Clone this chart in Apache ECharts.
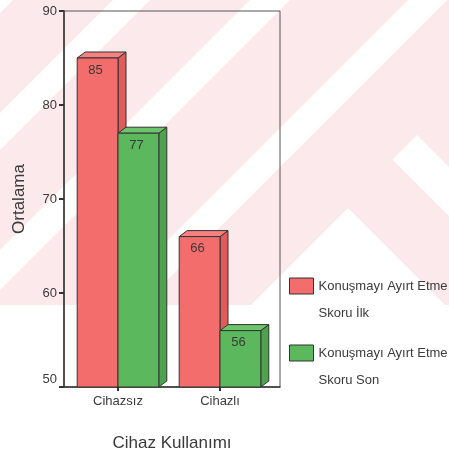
<!DOCTYPE html>
<html>
<head>
<meta charset="utf-8">
<title>Cihaz Kullanımı</title>
<script src="https://cdn.jsdelivr.net/npm/echarts@6/dist/echarts.min.js"></script>
<style>
  html, body { margin: 0; padding: 0; background: #ffffff; }
  #chart { width: 449px; height: 454px; }
</style>
</head>
<body>
<div id="chart"></div>
<script>
// Group labels along the horizontal axis
const categories = ['Cihazsız', 'Cihazlı'];

// Mean scores per group
const seriesNames = ['Konuşmayı Ayırt Etme Skoru İlk', 'Konuşmayı Ayırt Etme Skoru Son'];
const firstScores = [85, 66];
const lastScores = [77, 56];

// Value axis ticks
const yTicks = [50, 60, 70, 80, 90];

const FONT = '"Liberation Sans", Arial, sans-serif';
const TEXT = '#3a3a3a';
const colors = {
  red:   { front: '#f46d6d', top: '#f78080', side: '#e25a5a' },
  green: { front: '#5cb85c', top: '#6cc46c', side: '#4ea24e' }
};
const DEPTH_X = 8, DEPTH_Y = 6;
const BAR_FRAC = 0.4;
const Y_MIN = yTicks[0];

function toData(values) {
  return values.map((v, i) => [i, v]);
}

// Pseudo-3D bar: front face, top face, side face and value label
function renderBar(params, api) {
  const s = params.seriesIndex;
  const pal = s === 0 ? colors.red : colors.green;
  const x = api.value(0), v = api.value(1);
  const w = api.size([1, 0])[0] * BAR_FRAC;
  const base = api.coord([x, Y_MIN]);
  const top = api.coord([x, v]);
  const x0 = base[0] + (s === 0 ? -w : 0);
  const x1 = x0 + w;
  const yT = top[1], yB = base[1];
  const line = { stroke: '#333333', lineWidth: 1 };
  return {
    type: 'group',
    children: [
      {
        type: 'polygon',
        shape: { points: [[x1, yT], [x1 + DEPTH_X, yT - DEPTH_Y], [x1 + DEPTH_X, yB - DEPTH_Y], [x1, yB]] },
        style: Object.assign({ fill: pal.side }, line)
      },
      {
        type: 'polygon',
        shape: { points: [[x0, yT], [x0 + DEPTH_X, yT - DEPTH_Y], [x1 + DEPTH_X, yT - DEPTH_Y], [x1, yT]] },
        style: Object.assign({ fill: pal.top }, line)
      },
      {
        type: 'rect',
        shape: { x: x0, y: yT, width: w, height: yB - yT },
        style: Object.assign({ fill: pal.front }, line)
      },
      {
        type: 'text',
        style: {
          text: String(v),
          x: (x0 + x1) / 2 - 2,
          y: yT + 12,
          align: 'center',
          verticalAlign: 'middle',
          fill: TEXT,
          font: '13px ' + FONT
        }
      }
    ]
  };
}

// Faint diagonal pattern behind the chart
const PINK = '#fce9ec';
const bgStripes = [
  [[0, 0], [13, 0], [0, 13]],
  [[113, 0], [150, 0], [150 - 320, 320], [113 - 320, 320]],
  [[250, 0], [290, 0], [290 - 320, 320], [250 - 320, 320]],
  [[408, 0], [447, 0], [447 - 320, 320], [408 - 320, 320]],
  [[417, 135], [602, 320], [553, 320], [392.5, 159.5]],
  [[348, 208], [460, 320], [236, 320]]
];
const background = [
  { type: 'rect', z: -100, silent: true, shape: { x: 0, y: 0, width: 449, height: 305 }, style: { fill: PINK } }
].concat(bgStripes.map(p => ({
  type: 'polygon', z: -99, silent: true, shape: { points: p }, style: { fill: '#ffffff' }
})));

// One legend block per series; the leading blank line puts the swatch level with the first text line
function legendAt(name, top) {
  return {
    data: [name],
    orient: 'vertical',
    left: 289,
    top: top,
    padding: 0,
    icon: 'rect',
    itemWidth: 24,
    itemHeight: 16,
    selectedMode: false,
    itemStyle: { borderColor: '#333333', borderWidth: 1 },
    formatter: n => '\n' + n.replace(' Skoru', '\nSkoru'),
    textStyle: {
      color: TEXT,
      fontFamily: FONT,
      fontSize: 13,
      lineHeight: 27
    }
  };
}

const chart = echarts.init(document.getElementById('chart'), null, { renderer: 'canvas' });
chart.setOption({
  animation: false,
  backgroundColor: '#ffffff',
  graphic: { elements: background },
  grid: {
    left: 64, top: 11, right: 169, bottom: 67,
    outerBoundsMode: 'none',
    show: true, borderColor: '#555555', borderWidth: 1, backgroundColor: 'transparent'
  },
  legend: [
    legendAt(seriesNames[0], 245.5),
    legendAt(seriesNames[1], 312.5)
  ],
  xAxis: {
    type: 'value',
    min: -0.5294,
    max: 1.5882,
    name: 'Cihaz Kullanımı',
    nameLocation: 'middle',
    nameGap: 48,
    nameTextStyle: { color: TEXT, fontFamily: FONT, fontSize: 17 },
    splitLine: { show: false },
    axisLine: { show: true, onZero: false, lineStyle: { color: '#333333', width: 1.5 } },
    axisTick: { show: true, customValues: categories.map((c, i) => i), length: 4, lineStyle: { color: '#333333', width: 2 } },
    axisLabel: {
      customValues: categories.map((c, i) => i),
      formatter: v => categories[Math.round(v)],
      margin: 8,
      color: TEXT,
      fontFamily: FONT,
      fontSize: 13
    }
  },
  yAxis: {
    type: 'value',
    min: yTicks[0],
    max: yTicks[yTicks.length - 1],
    interval: 10,
    name: 'Ortalama',
    nameLocation: 'middle',
    nameGap: 36,
    nameTextStyle: { color: TEXT, fontFamily: FONT, fontSize: 17 },
    splitLine: { show: false },
    axisLine: { show: true, onZero: false, lineStyle: { color: '#333333', width: 1.5 } },
    axisTick: { show: true, length: 5, lineStyle: { color: '#333333', width: 2 } },
    axisLabel: {
      margin: 7,
      color: TEXT,
      fontFamily: FONT,
      fontSize: 13,
      formatter: v => (v === yTicks[0] ? '{low|' + v + '}' : String(v)),
      rich: { low: { color: TEXT, fontFamily: FONT, fontSize: 13, padding: [0, 0, 15, 0] } }
    }
  },
  series: [
    {
      name: seriesNames[0],
      type: 'custom',
      renderItem: renderBar,
      itemStyle: { color: colors.red.front },
      encode: { x: 0, y: 1 },
      data: toData(firstScores),
      z: 2
    },
    {
      name: seriesNames[1],
      type: 'custom',
      renderItem: renderBar,
      itemStyle: { color: colors.green.front },
      encode: { x: 0, y: 1 },
      data: toData(lastScores),
      z: 3
    }
  ]
});
</script>
</body>
</html>
